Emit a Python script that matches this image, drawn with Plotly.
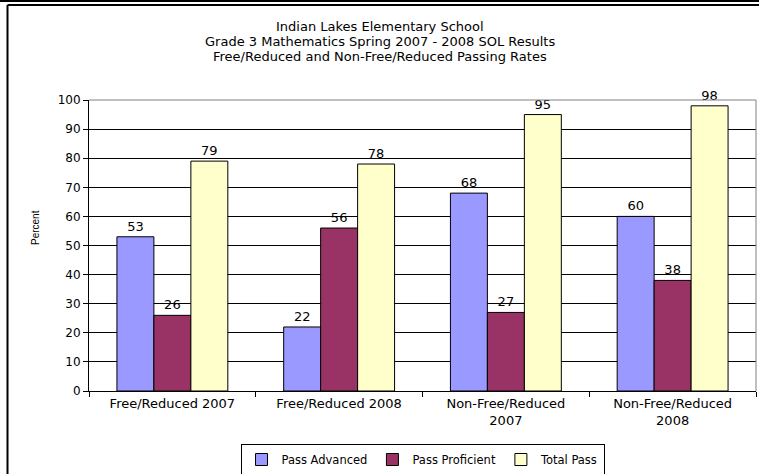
import plotly.graph_objects as go

# ---- data ----
categories = ["Free/Reduced 2007", "Free/Reduced 2008",
              "Non-Free/Reduced<br>2007", "Non-Free/Reduced<br>2008"]
pass_advanced = [53, 22, 68, 60]
pass_proficient = [26, 56, 27, 38]
total_pass = [79, 78, 95, 98]
series_names = ["Pass Advanced", "Pass Proficient", "Total Pass"]
y_ticks = [0, 10, 20, 30, 40, 50, 60, 70, 80, 90, 100]
title_lines = ["Indian Lakes Elementary School",
               "Grade 3 Mathematics Spring 2007 - 2008 SOL Results",
               "Free/Reduced and Non-Free/Reduced Passing Rates"]
y_title = "Percent"

# ---- layout geometry (pixels) ----
W, H = 759, 474
L, R, T, B = 89, 3, 100, 83
PW, PH = W - L - R, H - T - B

def px_x(x):
    return (x - L) / PW

def px_y(y):
    return (H - B - y) / PH

FONT = "DejaVu Sans"
colors = ["#9999FF", "#993366", "#FFFFCC"]

xs = list(range(len(categories)))
fig = go.Figure()
for name, vals, col in zip(series_names, [pass_advanced, pass_proficient, total_pass], colors):
    fig.add_trace(go.Bar(
        x=xs, y=vals, name=name,
        marker=dict(color=col, line=dict(color="black", width=1)),
        text=vals, texttemplate="%{text}", textposition="outside",
        textfont=dict(family=FONT, size=13, color="black"),
        cliponaxis=False,
    ))

fig.update_layout(
    width=W, height=H, autosize=False,
    margin=dict(l=L, r=R, t=T, b=B, autoexpand=False),
    paper_bgcolor="white", plot_bgcolor="white",
    barmode="group", bargap=0.335, bargroupgap=0,
    font=dict(family=FONT, size=12, color="black"),
    showlegend=True,
    legend=dict(orientation="h", x=0.5, xanchor="center",
                y=px_y(444), yanchor="top",
                bordercolor="black", borderwidth=1,
                font=dict(family=FONT, size=11.5, color="black"),
                itemwidth=30, traceorder="normal"),
)

fig.update_xaxes(
    range=[-0.5, len(categories) - 0.5],
    tickmode="array", tickvals=xs, ticktext=categories,
    ticks="", showgrid=False, zeroline=False,
    showline=True, linecolor="black", linewidth=1,
    tickfont=dict(family=FONT, size=13, color="black"),
    minor=dict(tickmode="array", tickvals=[i - 0.5 for i in range(len(categories) + 1)],
               ticks="outside", ticklen=5, tickcolor="black", tickwidth=1, showgrid=False),
)
fig.update_yaxes(
    range=[0, 100], tickmode="array", tickvals=y_ticks,
    ticks="outside", ticklen=5, tickcolor="black",
    showgrid=True, gridcolor="black", gridwidth=1,
    zeroline=False, showline=True, linecolor="black", linewidth=1,
    tickfont=dict(family=FONT, size=12, color="black"),
)

# title lines
title_y = [26, 41, 56]
for line, yy in zip(title_lines, title_y):
    fig.add_annotation(text=line, xref="paper", yref="paper",
                       x=px_x(W / 2), y=px_y(yy), xanchor="center", yanchor="middle",
                       showarrow=False, font=dict(family=FONT, size=13, color="black"))

# y axis title
fig.add_annotation(text=y_title, xref="paper", yref="paper",
                   x=px_x(35), y=px_y(228), textangle=-90,
                   xanchor="center", yanchor="middle", showarrow=False,
                   font=dict(family="Liberation Sans", size=10, color="black"))

shapes = [
    # plot area gray border top/right
    dict(type="line", xref="paper", yref="paper", x0=0, x1=1, y0=1, y1=1,
         line=dict(color="#808080", width=1), layer="above"),
    dict(type="line", xref="paper", yref="paper", x0=1, x1=1, y0=0, y1=1,
         line=dict(color="#808080", width=1), layer="above"),
    # outer frame
    dict(type="line", xref="paper", yref="paper", x0=px_x(0), x1=px_x(W), y0=px_y(1), y1=px_y(1),
         line=dict(color="black", width=2), layer="above"),
    dict(type="line", xref="paper", yref="paper", x0=px_x(7.5), x1=px_x(W), y0=px_y(5), y1=px_y(5),
         line=dict(color="black", width=2), layer="above"),
    dict(type="line", xref="paper", yref="paper", x0=px_x(7.5), x1=px_x(7.5), y0=px_y(5), y1=px_y(H),
         line=dict(color="black", width=2), layer="above"),
]
fig.update_layout(shapes=shapes)

fig.write_html("out.html", config={"displayModeBar": False},
               post_script="document.body.style.margin='0';document.body.style.overflow='hidden';")
